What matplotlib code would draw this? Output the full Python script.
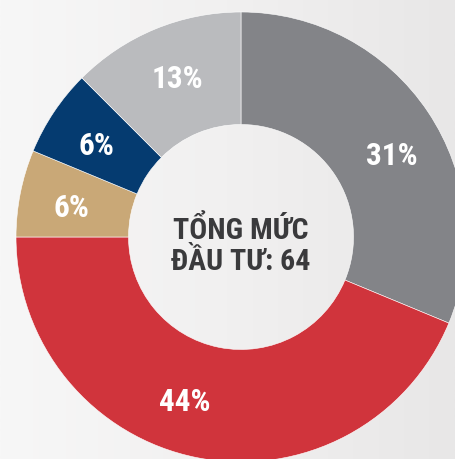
import numpy as np
from matplotlib import pyplot as plt
from matplotlib.colors import LinearSegmentedColormap

plt.rcParams['font.family'] = ['Roboto Condensed', 'Roboto', 'DejaVu Sans']

# 64 projects in total, split by group
groups = ['A', 'B', 'C', 'D', 'E']
counts = [20, 28, 4, 4, 8]
pct_labels = ['31%', '44%', '6%', '6%', '13%']
colors = ['#838488', '#d0343c', '#c9a877', '#053b70', '#babbbe']
center_text = 'TỔNG MỨC\nĐẦU TƯ: 64'

W, H = 455, 459
fig = plt.figure(figsize=(W / 100, H / 100), dpi=100)
ax = fig.add_axes([0, 0, 1, 1])

# soft horizontal background gradient
grad = np.linspace(0, 1, 256).reshape(1, -1)
bg = LinearSegmentedColormap.from_list('bg', ['#f7f7f7', '#f1f0f0', '#e8e7e7'])
ax.imshow(grad, cmap=bg, extent=[0, W, 0, H], aspect='auto', zorder=0)

cx, cy, r = 241, H - 237, 225
wedges, _ = ax.pie(counts, colors=colors, startangle=90, counterclock=False,
                   radius=r, center=(cx, cy),
                   wedgeprops=dict(width=r * 0.5, edgecolor='white', linewidth=0.4))
for w in wedges:
    w.set_zorder(2)

# labels sit a bit off the exact middle of each slice
nudge = [-5, -8, 1, 1, -1]
label_r = r * 0.765
angle = 90.0
total = sum(counts)
for c, lab, dn in zip(counts, pct_labels, nudge):
    span = 360.0 * c / total
    mid = np.deg2rad(angle - span / 2 + dn)
    angle -= span
    ax.text(cx + label_r * np.cos(mid), cy + label_r * np.sin(mid) - 2, lab,
            ha='center', va='center', color='white', fontsize=22.5,
            fontweight='bold', zorder=3)

ax.text(cx, cy - 9, center_text, ha='center', va='center', color='#3a3a3c',
        fontsize=21.5, fontweight='bold', linespacing=1.15, zorder=3)

ax.set_xlim(0, W)
ax.set_ylim(0, H)
ax.set_aspect('auto')
ax.axis('off')

fig.savefig('out.png', dpi=100)
